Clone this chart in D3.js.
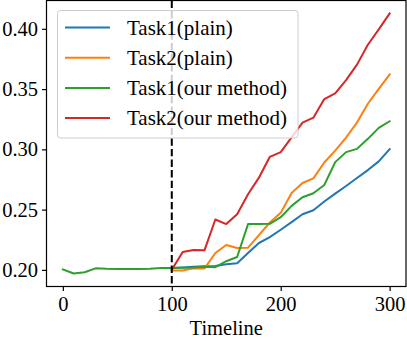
<!DOCTYPE html>
<html>
<head>
<meta charset="utf-8">
<script src="https://cdn.jsdelivr.net/npm/d3@7"></script>
<style>
    body { margin: 0; background: #fff; }
    svg { display: block; }
    svg text { font-family: "Liberation Serif", "Times New Roman", serif; }
</style>
</head>
<body>
<svg width="407" height="341"></svg>
<script>
// timeline steps
const stepsAll = d3.range(0, 301, 10);
const stepsAfter = d3.range(100, 301, 10);

const task1Plain = [0.2015, 0.202, 0.2025, 0.203, 0.2033, 0.2047, 0.2055, 0.214, 0.2223, 0.2272, 0.2333,
    0.2396, 0.2462, 0.2495, 0.2567, 0.2633, 0.2696, 0.2762, 0.2828, 0.290, 0.3002];
const task2Plain = [0.1995, 0.1995, 0.2014, 0.2011, 0.214, 0.2206, 0.2182, 0.2184, 0.2289, 0.2393, 0.2473,
    0.2638, 0.2721, 0.2759, 0.2891, 0.299, 0.3098, 0.3222, 0.3378, 0.3502, 0.3621];
const task1Ours = [0.2003, 0.197, 0.198, 0.2013, 0.2009, 0.2008, 0.2008, 0.2007, 0.2009, 0.2015, 0.2015,
    0.2017, 0.2019, 0.2025, 0.2022, 0.2072, 0.2107, 0.238, 0.238, 0.2382, 0.2437,
    0.2531, 0.2603, 0.2636, 0.2704, 0.2894, 0.2977, 0.3004, 0.3087, 0.3178, 0.3233];
const task2Ours = [0.200, 0.2149, 0.2165, 0.2162, 0.2418, 0.238, 0.2462, 0.2627, 0.2765, 0.2938, 0.2977,
    0.310, 0.3222, 0.3263, 0.3417, 0.3464, 0.3574, 0.3703, 0.3868, 0.3995, 0.4127];

const labels = ["Task1(plain)", "Task2(plain)", "Task1(our method)", "Task2(our method)"];
const colors = ["#1f77b4", "#ff7f0e", "#2ca02c", "#d62728"];
const xTicks = [0, 100, 200, 300];
const yTicks = [0.20, 0.25, 0.30, 0.35, 0.40];
const switchPoint = 100;

const series = [
    { name: labels[0], xs: stepsAfter, ys: task1Plain },
    { name: labels[1], xs: stepsAfter, ys: task2Plain },
    { name: labels[2], xs: stepsAll, ys: task1Ours },
    { name: labels[3], xs: stepsAfter, ys: task2Ours }
];

const svg = d3.select("svg");
const plotLeft = 46.5, plotRight = 406, plotTop = 0.5, plotBottom = 286.5;

// matplotlib style 5% margins
const allY = series.flatMap(s => s.ys);
const yMin = d3.min(allY), yMax = d3.max(allY);
const yPad = (yMax - yMin) * 0.05;
const x = d3.scaleLinear().domain([-15, 315]).range([plotLeft, plotRight]);
const y = d3.scaleLinear().domain([yMin - yPad, yMax + yPad]).range([plotBottom, plotTop]);

const fontSize = 20.5;

// lines
const line = d3.line().x(d => x(d[0])).y(d => y(d[1]));
series.forEach((s, i) => {
    svg.append("path")
        .datum(s.xs.map((v, j) => [v, s.ys[j]]))
        .attr("d", line)
        .attr("fill", "none")
        .attr("stroke", colors[i])
        .attr("stroke-width", 2)
        .attr("stroke-linejoin", "round")
        .attr("stroke-linecap", "square");
});

svg.append("line")
    .attr("x1", x(switchPoint)).attr("x2", x(switchPoint))
    .attr("y1", plotTop).attr("y2", plotBottom)
    .attr("stroke", "#000")
    .attr("stroke-width", 2)
    .attr("stroke-dasharray", "7.4,3.2");

// frame
svg.append("rect")
    .attr("x", plotLeft).attr("y", plotTop)
    .attr("width", plotRight - plotLeft).attr("height", plotBottom - plotTop)
    .attr("fill", "none")
    .attr("stroke", "#000")
    .attr("stroke-width", 1.2);

// axes
const xAxis = svg.append("g")
    .attr("transform", `translate(0,${plotBottom})`)
    .call(d3.axisBottom(x).tickValues(xTicks).tickSize(4.5).tickPadding(5).tickFormat(d3.format("d")));
const yAxis = svg.append("g")
    .attr("transform", `translate(${plotLeft},0)`)
    .call(d3.axisLeft(y).tickValues(yTicks).tickSize(4.5).tickPadding(4).tickFormat(d3.format(".2f")));

[xAxis, yAxis].forEach(g => {
    g.attr("font-family", null).attr("font-size", null);
    g.select(".domain").remove();
    g.selectAll(".tick line").attr("stroke", "#000").attr("stroke-width", 1.2);
    g.selectAll(".tick text")
        .attr("fill", "#000")
        .style("font-size", fontSize + "px");
});

svg.append("text")
    .attr("x", (plotLeft + plotRight) / 2)
    .attr("y", 335)
    .attr("text-anchor", "middle")
    .style("font-size", fontSize + "px")
    .text("Timeline");

// legend
const legend = svg.append("g");
legend.append("rect")
    .attr("x", 57.5).attr("y", 10.5)
    .attr("width", 240.5).attr("height", 127.5)
    .attr("rx", 3)
    .attr("fill", "#fff")
    .attr("fill-opacity", 0.8)
    .attr("stroke", "#cccccc")
    .attr("stroke-width", 1);

labels.forEach((label, i) => {
    const ly = 27.5 + i * 30.2;
    legend.append("line")
        .attr("x1", 65).attr("x2", 110)
        .attr("y1", ly).attr("y2", ly)
        .attr("stroke", colors[i])
        .attr("stroke-width", 2);
    legend.append("text")
        .attr("x", 127)
        .attr("y", ly + 7)
        .style("font-size", "21px")
        .text(label);
});
</script>
</body>
</html>
